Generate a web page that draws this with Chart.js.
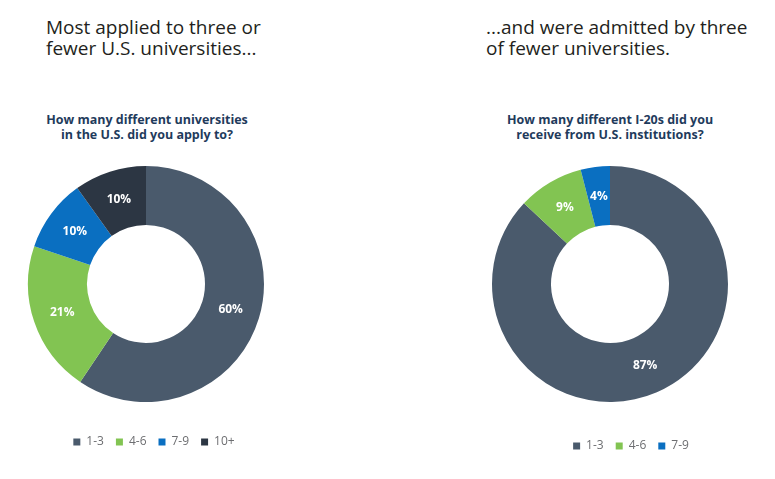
<!DOCTYPE html>
<html><head><meta charset="utf-8">
<script src="https://cdn.jsdelivr.net/npm/chart.js@4"></script>
<style>
html,body{margin:0;padding:0;background:#fff;}
body{width:775px;height:479px;position:relative;overflow:hidden;font-family:"Open Sans",sans-serif;}
.head{position:absolute;font-size:19px;line-height:21px;color:#231f20;font-weight:400;}
.sub{position:absolute;font-size:12.5px;line-height:14.5px;color:#1f3b5c;font-weight:700;text-align:center;width:260px;}
.box{position:absolute;}
</style></head><body>
<div class="head" style="left:46px;top:17px;">Most applied to three or<br>fewer U.S. universities...</div>
<div class="head" style="left:486px;top:17px;">...and were admitted by three<br>of fewer universities.</div>
<div class="sub" style="left:17px;top:113px;">How many different universities<br>in the U.S. did you apply to?</div>
<div class="sub" style="left:480px;top:113px;">How many different I-20s did you<br>receive from U.S. institutions?</div>
<div class="box" style="left:16px;top:163px;width:260px;height:295px;"><canvas id="c1"></canvas></div>
<div class="box" style="left:480px;top:163px;width:260px;height:299px;"><canvas id="c2"></canvas></div>
<script>
const appliedLabels = ["1-3","4-6","7-9","10+"];
const appliedValues = [60,21,10,10];
const admittedLabels = ["1-3","4-6","7-9"];
const admittedValues = [87,9,4];
const colors = ["#4a5a6c","#82c452","#0a6fc1","#2c3643"];

const pctLabels = {
  id:'pctLabels',
  afterDatasetsDraw(chart){
    const ctx = chart.ctx;
    const meta = chart.getDatasetMeta(0);
    const data = chart.data.datasets[0].data;
    ctx.save();
    ctx.fillStyle = '#ffffff';
    ctx.font = 'bold 12px "Open Sans", sans-serif';
    ctx.textAlign = 'center';
    ctx.textBaseline = 'middle';
    meta.data.forEach((arc,i)=>{
      const p = arc.tooltipPosition();
      ctx.fillText(data[i] + '%', p.x, p.y);
    });
    ctx.restore();
  }
};

function legendShift(dx){
  return {
    id:'legendShift',
    afterLayout(chart){
      if(chart.legend){ chart.legend.left += dx; chart.legend.right += dx; }
    }
  };
}

function makeChart(id, labels, values, gap, dx){
  return new Chart(document.getElementById(id), {
    type:'doughnut',
    data:{labels:labels, datasets:[{data:values, backgroundColor:colors.slice(0,labels.length), borderWidth:0}]},
    options:{
      responsive:true, maintainAspectRatio:false, animation:false,
      cutout:'50%',
      layout:{padding:{top:3,bottom:0,left:11,right:11}},
      plugins:{
        tooltip:{enabled:false},
        legend:{position:'bottom',
          title:{display:true,text:'',padding:{top:gap,bottom:0},font:{size:1,lineHeight:1}},
          labels:{boxWidth:7,boxHeight:7,padding:12,color:'#6d6e71',font:{family:'"Open Sans", sans-serif',size:12}}}
      }
    },
    plugins:[pctLabels, legendShift(dx)]
  });
}
makeChart('c1', appliedLabels, appliedValues, 21, 8);
makeChart('c2', admittedLabels, admittedValues, 25, 21);
</script>
</body></html>
